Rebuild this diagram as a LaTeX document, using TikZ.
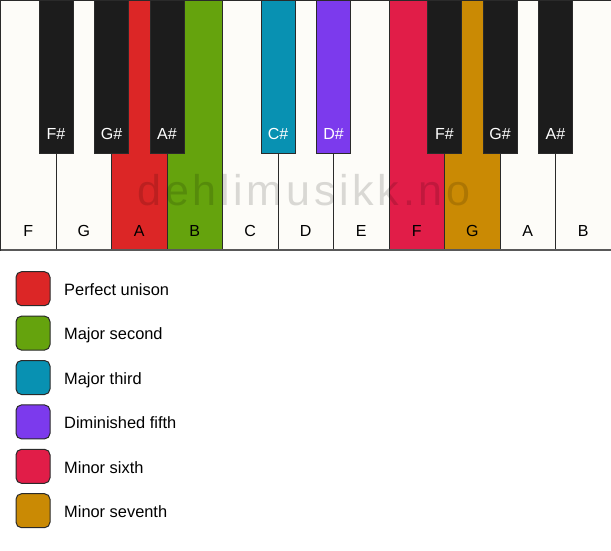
\documentclass[tikz,border=0pt]{standalone}
\usepackage{fontspec}
\setmainfont{Liberation Sans}
\newfontfamily\wmfont[LetterSpace=8.7]{Liberation Sans}
\definecolor{wkey}{HTML}{FDFCF8}
\definecolor{bkey}{HTML}{1C1C1C}
\definecolor{keyline}{HTML}{2A2A2A}
\definecolor{cred}{HTML}{DC2626}
\definecolor{cgreen}{HTML}{65A30D}
\definecolor{ccyan}{HTML}{0891B2}
\definecolor{cviolet}{HTML}{7C3AED}
\definecolor{crose}{HTML}{E11D48}
\definecolor{cgold}{HTML}{CA8A04}
\begin{document}
\begin{tikzpicture}[x=1pt,y=-1pt,
  whitekey/.style={rectangle,draw=keyline,line width=1pt,inner sep=0pt,outer sep=0pt,
    minimum width=55.5pt,minimum height=250pt,anchor=north west},
  blackkey/.style={rectangle,draw=keyline,line width=1pt,inner sep=0pt,outer sep=0pt,
    minimum width=34pt,minimum height=153pt,anchor=north},
  wlabel/.style={font=\fontsize{16}{19}\selectfont,text=black,anchor=base,inner sep=0pt},
  blabel/.style={font=\fontsize{16}{19}\selectfont,text=white,anchor=base,inner sep=0pt},
  legbox/.style={rectangle,rounded corners=5.5pt,draw=keyline,line width=1pt,
    minimum width=34pt,minimum height=34pt,inner sep=0pt},
  legtext/.style={font=\fontsize{16.4}{19}\selectfont,text=black,anchor=base west,inner sep=0pt},
  watermark/.style={font=\wmfont\fontsize{43}{46}\selectfont,text=black,text opacity=0.14,inner sep=0pt,anchor=base}
]
\useasboundingbox (0,0) rectangle (611,550);
\fill[white] (0,0) rectangle (611,550);
% white keys
\foreach \i/\n/\c in {0/F/wkey,1/G/wkey,2/A/cred,3/B/cgreen,4/C/wkey,5/D/wkey,6/E/wkey,7/F/crose,8/G/cgold,9/A/wkey,10/B/wkey}{
  \node[whitekey,fill=\c] (w\i) at ({0.5+\i*55.5},0) {};
  \node[wlabel] (wl\i) at ({0.5+\i*55.5+27.75},236) {\n};
}
\draw[draw=black!65,line width=2pt] (w0.south west) -- (w10.south east);
% watermark
\node[watermark] (wm) at (304,205) {dehlimusikk.no};
% black keys
\foreach \i/\n/\c in {1/F/bkey,2/G/bkey,3/A/bkey,5/C/ccyan,6/D/cviolet,8/F/bkey,9/G/bkey,10/A/bkey}{
  \node[blackkey,fill=\c] (b\i) at ({0.5+\i*55.5},0) {};
  \node[blabel] (bl\i) at ({0.5+\i*55.5},139) {\n\#};
}
% legend
\foreach \k/\c/\t in {0/cred/Perfect unison,1/cgreen/Major second,2/ccyan/Major third,3/cviolet/Diminished fifth,4/crose/Minor sixth,5/cgold/Minor seventh}{
  \node[legbox,fill=\c] (lb\k) at (33,{288.7+\k*44.4}) {};
  \node[legtext] (lt\k) at (64,{288.7+\k*44.4+6.8}) {\t};
}
\end{tikzpicture}
\end{document}
